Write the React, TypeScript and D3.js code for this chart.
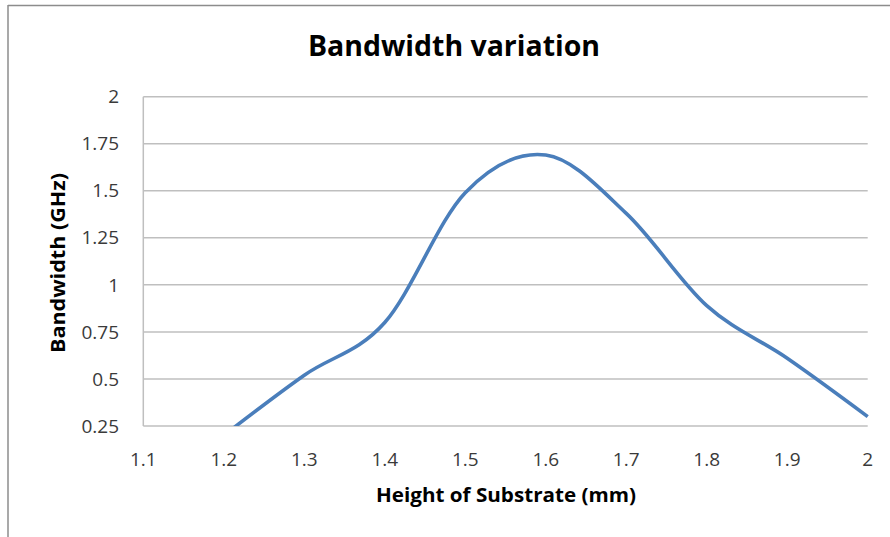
import React from "react";
import * as d3 from "d3";

const heights = [1.2, 1.3, 1.4, 1.5, 1.6, 1.7, 1.8, 1.9, 2.0];
const bandwidth = [0.2, 0.52, 0.8, 1.49, 1.69, 1.38, 0.89, 0.61, 0.3];
const xTicks = [1.1, 1.2, 1.3, 1.4, 1.5, 1.6, 1.7, 1.8, 1.9, 2];
const yTicks = [0.25, 0.5, 0.75, 1, 1.25, 1.5, 1.75, 2];
const title = "Bandwidth variation";
const xTitle = "Height of Substrate (mm)";
const yTitle = "Bandwidth (GHz)";

const W = 890;
const H = 537;
const FONT = "'Open Sans', 'Liberation Sans', sans-serif";

export default function App() {
  const x = d3.scaleLinear().domain([1.1, 2]).range([143.3, 867.7]);
  const y = d3.scaleLinear().domain([0.25, 2]).range([426, 96.7]);
  const pts = heights.map((h, i) => [h, bandwidth[i]] as [number, number]);
  const line = d3
    .line<[number, number]>()
    .x((d) => x(d[0]))
    .y((d) => y(d[1]))
    .curve(d3.curveCardinal.tension(0));

  return (
    <svg
      width={W}
      height={H}
      style={{ position: "absolute", left: 0, top: 0, background: "#fff" }}
    >
      <defs>
        <clipPath id="plotclip">
          <rect x={x(1.1)} y={y(2)} width={W - x(1.1)} height={y(0.25) - y(2)} />
        </clipPath>
      </defs>
      <rect x={0} y={0} width={W} height={H} fill="#fff" />
      {/* outer chart border (cropped) */}
      <line x1={8} x2={W + 5} y1={5.5} y2={5.5} stroke="#8c8c8c" strokeWidth={1.5} />
      <line x1={8} x2={8} y1={5} y2={H + 5} stroke="#8c8c8c" strokeWidth={1.5} />

      {/* gridlines */}
      {yTicks.map((t) => (
        <line
          key={"g" + t}
          x1={x(1.1)}
          x2={x(2)}
          y1={y(t)}
          y2={y(t)}
          stroke="#bfbfbf"
          strokeWidth={1.5}
        />
      ))}
      {/* y axis line */}
      <line x1={x(1.1)} x2={x(1.1)} y1={y(2)} y2={y(0.25)} stroke="#bfbfbf" strokeWidth={1.5} />

      {/* y tick labels */}
      {yTicks.map((t) => (
        <text
          key={"yl" + t}
          x={119}
          y={y(t)}
          dy="0.35em"
          textAnchor="end"
          fontFamily={FONT}
          fontSize={19}
          fill="#3a3a3a"
        >
          {String(t)}
        </text>
      ))}
      {/* x tick labels */}
      {xTicks.map((t) => (
        <text
          key={"xl" + t}
          x={x(t)}
          y={466}
          textAnchor="middle"
          fontFamily={FONT}
          fontSize={19}
          fill="#3a3a3a"
        >
          {String(t)}
        </text>
      ))}

      {/* data line */}
      <path
        d={line(pts) || ""}
        fill="none"
        stroke="#4a7ebb"
        strokeWidth={3.6}
        strokeLinejoin="round"
        clipPath="url(#plotclip)"
      />

      {/* titles */}
      <text
        x={454}
        y={56}
        textAnchor="middle"
        fontFamily={FONT}
        fontWeight="bold"
        fontSize={28}
        fill="#000"
        textLength={292}
        lengthAdjust="spacingAndGlyphs"
      >
        {title}
      </text>
      <text
        x={506}
        y={502}
        textAnchor="middle"
        fontFamily={FONT}
        fontWeight="bold"
        fontSize={19}
        fill="#000"
        textLength={260}
        lengthAdjust="spacingAndGlyphs"
      >
        {xTitle}
      </text>
      <text
        transform="translate(65,263) rotate(-90)"
        textAnchor="middle"
        fontFamily={FONT}
        fontWeight="bold"
        fontSize={19}
        fill="#000"
        textLength={180}
        lengthAdjust="spacingAndGlyphs"
      >
        {yTitle}
      </text>
    </svg>
  );
}
